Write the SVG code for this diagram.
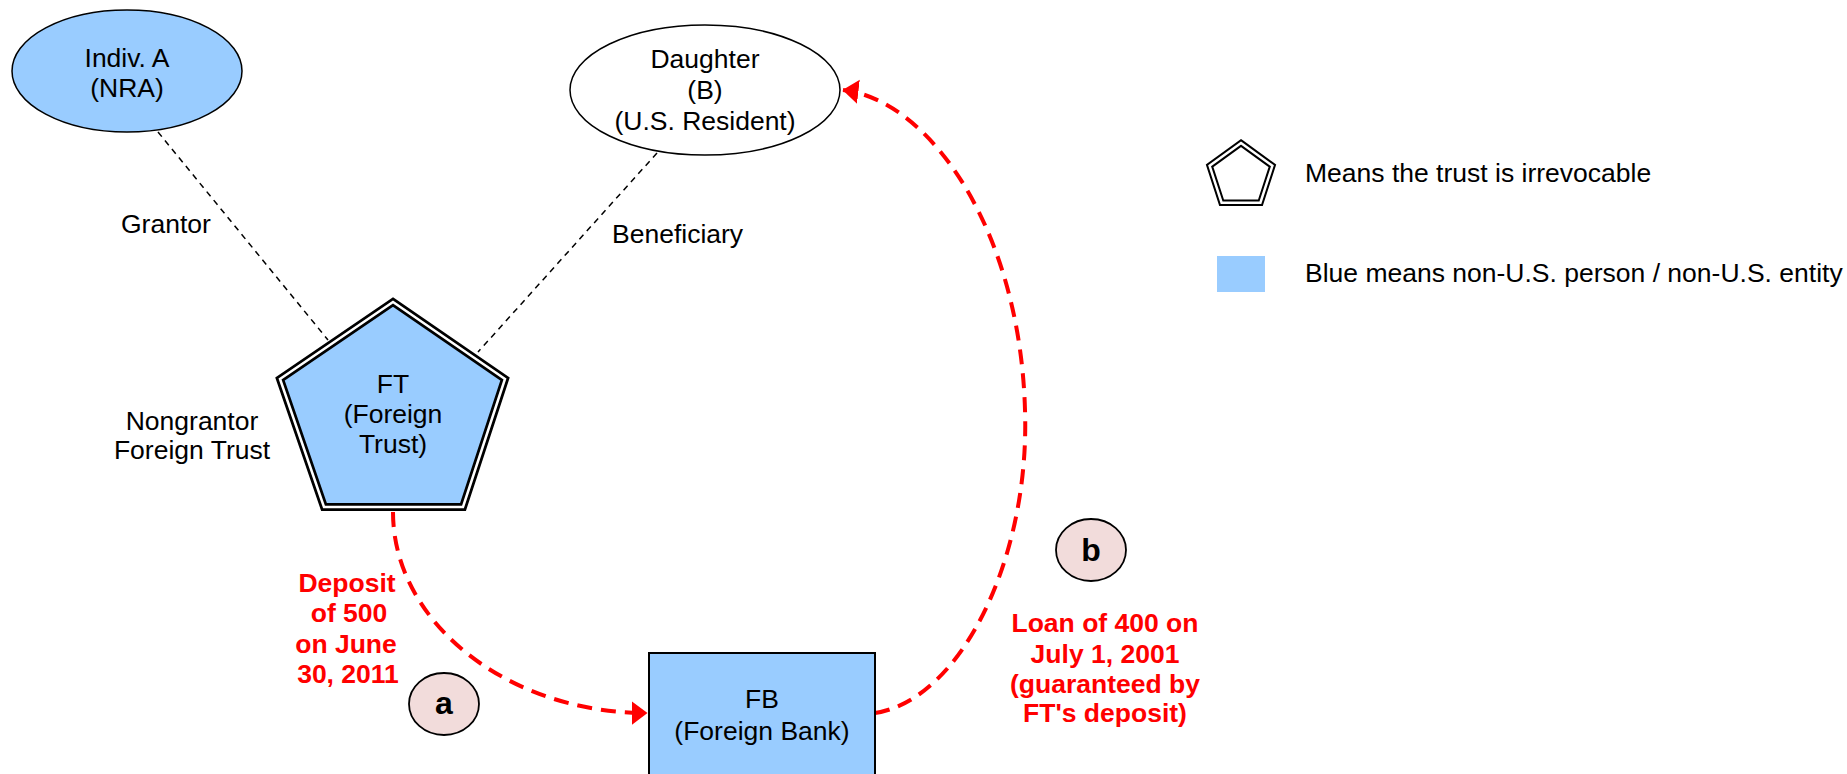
<svg xmlns="http://www.w3.org/2000/svg" width="1847" height="774" viewBox="0 0 1847 774">
<style>
text{font-family:"Liberation Sans",Arial,sans-serif;font-size:26.5px;fill:#000}
.c{text-anchor:middle}
.red{fill:#ff0000;font-weight:bold}
.blue{fill:#99ccff}
.ln{fill:none;stroke:#000;stroke-width:1.5;stroke-dasharray:6 5}
.rd{fill:none;stroke:#ff0000;stroke-width:4;stroke-dasharray:15 9}
.tag{fill:#f2dcdb;stroke:#000;stroke-width:1.8}
.tagt{font-weight:bold;font-size:32px}
</style>
<defs>
<marker id="ah" markerUnits="userSpaceOnUse" markerWidth="16" markerHeight="26" viewBox="0 0 16 26" refX="15.5" refY="13" orient="auto">
<path d="M0,1 L16,13 L0,25 z" fill="#ff0000"/>
</marker>
</defs>

<g id="connectors">
<line class="ln" x1="158" y1="132" x2="328" y2="340"/>
<line class="ln" x1="657" y1="153" x2="478" y2="352"/>
<path class="rd" d="M393,512 C393,622 507,713 647,713" marker-end="url(#ah)"/>
<path class="rd" d="M875,713 C960,700 1030,560 1025,410 C1020,230 930,100 843,90" marker-end="url(#ah)"/>
</g>

<g id="indivA">
<ellipse cx="127" cy="71" rx="115" ry="61" class="blue" stroke="#000" stroke-width="1.5"/>
<text class="c" x="127" y="67">Indiv. A</text>
<text class="c" x="127" y="97">(NRA)</text>
</g>

<g id="daughter">
<ellipse cx="705" cy="90" rx="135" ry="65" fill="#fff" stroke="#000" stroke-width="1.5"/>
<text class="c" x="705" y="68">Daughter</text>
<text class="c" x="705" y="99">(B)</text>
<text class="c" x="705" y="130">(U.S. Resident)</text>
</g>

<g id="grantor-label"><text x="121" y="233">Grantor</text></g>
<g id="beneficiary-label"><text x="612" y="243">Beneficiary</text></g>

<g id="ft">
<polygon points="393,302 505,379 463,507 324,507 280,379" class="blue" stroke="#000" stroke-width="8" stroke-linejoin="miter"/>
<polygon points="393,302 505,379 463,507 324,507 280,379" fill="none" stroke="#fff" stroke-width="2.5"/>
<text class="c" x="393" y="393">FT</text>
<text class="c" x="393" y="423">(Foreign</text>
<text class="c" x="393" y="453">Trust)</text>
</g>

<g id="nongrantor-label">
<text class="c" x="192" y="430">Nongrantor</text>
<text class="c" x="192" y="459">Foreign Trust</text>
</g>

<g id="fb">
<rect x="649" y="653" width="226" height="140" class="blue" stroke="#000" stroke-width="2"/>
<text class="c" x="762" y="708">FB</text>
<text class="c" x="762" y="740">(Foreign Bank)</text>
</g>

<g id="deposit-label">
<text class="c red" x="347" y="592">Deposit</text>
<text class="c red" x="349" y="622">of 500</text>
<text class="c red" x="346" y="653">on June</text>
<text class="c red" x="348" y="683">30, 2011</text>
</g>

<g id="tag-a">
<ellipse cx="444" cy="704" rx="35" ry="31" class="tag"/>
<text class="c tagt" x="444" y="714">a</text>
</g>

<g id="tag-b">
<ellipse cx="1091" cy="550" rx="35" ry="31" class="tag"/>
<text class="c tagt" x="1091" y="561">b</text>
</g>

<g id="loan-label">
<text class="c red" x="1105" y="632">Loan of 400 on</text>
<text class="c red" x="1105" y="663">July 1, 2001</text>
<text class="c red" x="1105" y="693">(guaranteed by</text>
<text class="c red" x="1105" y="722">FT's deposit)</text>
</g>

<g id="legend">
<polygon points="1241,143 1272.4,165.8 1260.4,202.7 1221.6,202.7 1209.6,165.8" fill="#fff" stroke="#000" stroke-width="6.5"/>
<polygon points="1241,143 1272.4,165.8 1260.4,202.7 1221.6,202.7 1209.6,165.8" fill="none" stroke="#fff" stroke-width="2.5"/>
<text x="1305" y="182">Means the trust is irrevocable</text>
<rect x="1217" y="256" width="48" height="36" class="blue"/>
<text x="1305" y="282">Blue means non-U.S. person / non-U.S. entity</text>
</g>
</svg>
